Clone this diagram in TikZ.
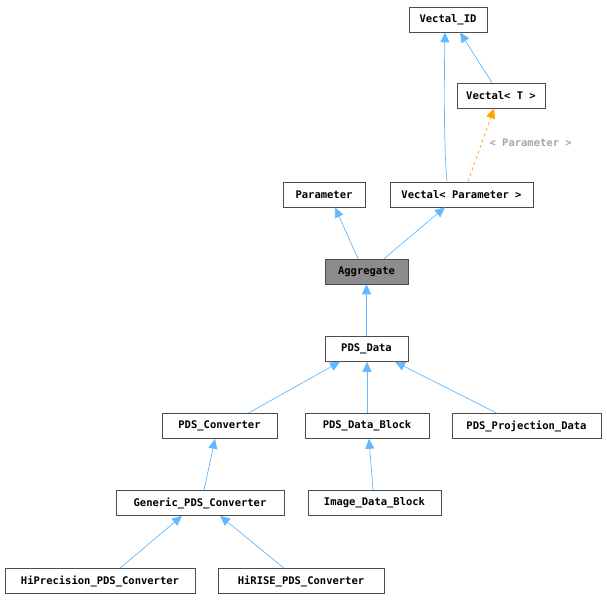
\documentclass[tikz,border=0pt]{standalone}
\usepackage{fontspec}
\setmonofont{DejaVu Sans Mono}
\usetikzlibrary{arrows.meta}
\definecolor{edge}{HTML}{63B8FF}
\definecolor{tmpl}{HTML}{FFA500}
\begin{document}
\begin{tikzpicture}[x=1pt,y=-1pt,
  box/.style={draw=black!70,fill=white,line width=0.6pt,minimum height=25pt,inner sep=0pt,font=\ttfamily\bfseries\fontsize{10.5}{12}\selectfont},
  inh/.style={draw=edge,line width=0.7pt,-{Triangle[length=10pt,width=9pt,fill=edge]}},
  tpl/.style={draw=tmpl,line width=0.7pt,dashed,-{Triangle[length=10pt,width=9pt,fill=tmpl]}}]
\useasboundingbox (0,0) rectangle (607,600);
\node[box,minimum width=78pt] (vid) at (448,19.5) {Vectal\_ID};
\node[box,minimum width=88pt] (vt) at (501,95.5) {Vectal< T >};
\node[box,minimum width=82pt] (par) at (324,194.5) {Parameter};
\node[box,minimum width=143pt] (vp) at (461.5,194.5) {Vectal< Parameter >};
\node[box,minimum width=83pt,fill=black!45] (agg) at (366.5,271.5) {Aggregate};
\node[box,minimum width=83pt] (pd) at (366.5,349) {PDS\_Data};
\node[box,minimum width=115pt] (pc) at (219.5,426) {PDS\_Converter};
\node[box,minimum width=124pt] (pdb) at (367,426) {PDS\_Data\_Block};
\node[box,minimum width=149pt] (ppd) at (526.5,426) {PDS\_Projection\_Data};
\node[box,minimum width=168pt] (gen) at (200,503) {Generic\_PDS\_Converter};
\node[box,minimum width=133pt] (idb) at (374.5,503) {Image\_Data\_Block};
\node[box,minimum width=190pt] (hip) at (100,581) {HiPrecision\_PDS\_Converter};
\node[box,minimum width=166pt] (hir) at (301,581) {HiRISE\_PDS\_Converter};

\draw[inh] ([xshift=-14.5pt]vp.north) .. controls (444,150) and (444,90) .. ([xshift=-3pt]vid.south);
\draw[inh] ([xshift=-9pt]vt.north) -- ([xshift=12pt]vid.south);
\draw[tpl] ([xshift=6.5pt]vp.north) -- ([xshift=-7pt]vt.south);
\node[text=black!35,font=\ttfamily\bfseries\fontsize{10.5}{12}\selectfont,anchor=west] (lab) at (486,143) {< Parameter >};
\draw[inh] ([xshift=-8.5pt]agg.north) -- ([xshift=11pt]par.south);
\draw[inh] ([xshift=17.5pt]agg.north) -- ([xshift=-16.5pt]vp.south);
\draw[inh] (pd.north) -- (agg.south);
\draw[inh] ([xshift=28.5pt]pc.north) -- ([xshift=-26.5pt]pd.south);
\draw[inh] (pdb.north) -- ([xshift=0.5pt]pd.south);
\draw[inh] ([xshift=-29.5pt]ppd.north) -- ([xshift=28.5pt]pd.south);
\draw[inh] ([xshift=4pt]gen.north) -- ([xshift=-4.5pt]pc.south);
\draw[inh] ([xshift=-1.5pt]idb.north) -- ([xshift=2pt]pdb.south);
\draw[inh] ([xshift=20pt]hip.north) -- ([xshift=-18pt]gen.south);
\draw[inh] ([xshift=-17pt]hir.north) -- ([xshift=20pt]gen.south);
\end{tikzpicture}
\end{document}
